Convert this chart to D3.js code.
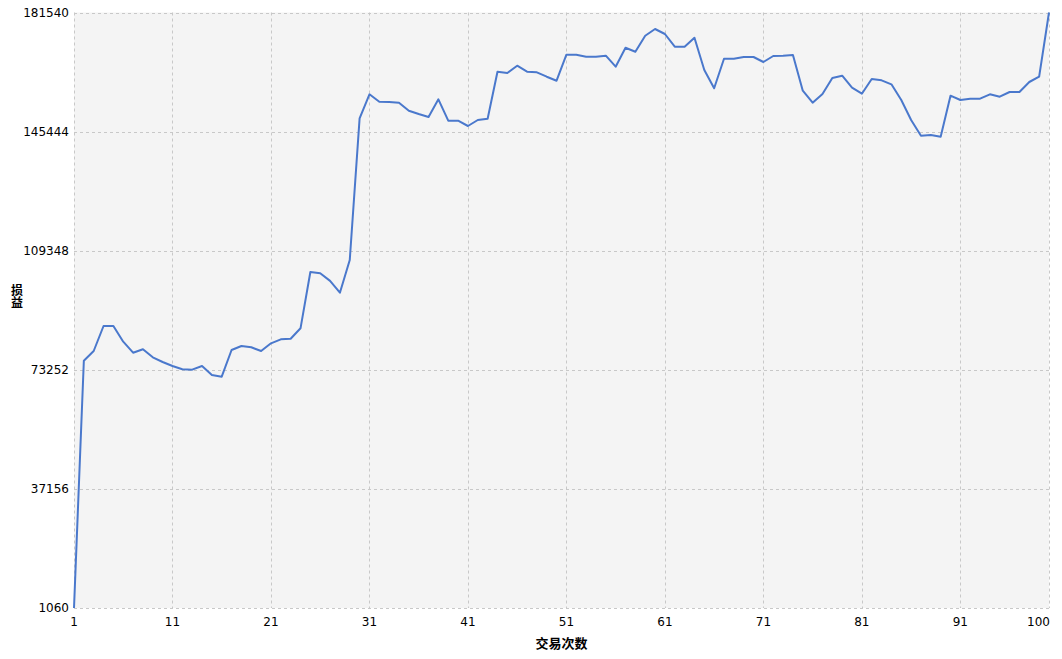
<!DOCTYPE html>
<html><head><meta charset="utf-8">
<script src="https://cdn.jsdelivr.net/npm/d3@7"></script>
<style>body{margin:0;background:#fff;}svg{display:block;}</style>
</head><body>
<svg id="c" width="1062" height="659"></svg>
<script>
const trades = d3.range(1, 101);
const pnl = [1060,76010,78949,86526,86526,81767,78434,79464,77040,75615,
74403,73402,73300,74403,71675,71160,79252,80464,80070,78949,
81282,82494,82676,85828,102892,102498,100200,96618,106528,149473,
156747,154504,154413,154201,151777,150777,149867,155231,148746,148746,
147140,148958,149352,163596,163202,165414,163596,163414,162081,160869,
168748,168748,168142,168142,168445,165112,170870,169658,174507,176538,
175022,171173,171173,173901,164112,158565,167536,167536,168051,168051,
166536,168355,168445,168658,157838,154201,156838,161687,162384,158747,
156929,161384,160990,159778,155019,148958,144200,144412,143897,156324,
155019,155414,155414,156747,156020,157444,157444,160475,162081,181540];
const yTicks = [1060,37156,73252,109348,145444,181540];
const xTicks = [1,11,21,31,41,51,61,71,81,91,100];
const xTitle = "交易次数";
const yTitle = "损益";

const svg = d3.select("#c");
const L=74, R=1049, T=12.5, B=608;
const x = d3.scaleLinear().domain([1,100]).range([L,R]);
const y = d3.scaleLinear().domain([1060,181540]).range([B,T]);

svg.append("rect").attr("x",L).attr("y",T).attr("width",R-L).attr("height",B-T).attr("fill","#f4f4f4");

const g = svg.append("g");
g.selectAll(".hg").data(yTicks).join("line")
 .attr("x1",L).attr("x2",R).attr("y1",d=>Math.round(y(d))+0.5).attr("y2",d=>Math.round(y(d))+0.5)
 .attr("stroke","#c8c8c8").attr("stroke-dasharray","3,3");
g.selectAll(".vg").data(xTicks).join("line")
 .attr("y1",T).attr("y2",B).attr("x1",d=>Math.round(x(d))+0.5).attr("x2",d=>Math.round(x(d))+0.5)
 .attr("stroke","#c8c8c8").attr("stroke-dasharray","3,3");

const font = "Tahoma, 'DejaVu Sans', sans-serif";
svg.selectAll(".yl").data(yTicks).join("text")
 .attr("x",69).attr("y",d=>y(d)).attr("dy","0.35em").attr("text-anchor","end")
 .attr("font-family",font).attr("font-size",12).attr("fill","#000").text(d=>d);
svg.selectAll(".xl").data(xTicks).join("text")
 .attr("x",d=>d===100? R+1 : x(d)).attr("y",626).attr("text-anchor",d=>d===100?"end":"middle")
 .attr("font-family",font).attr("font-size",12).attr("fill","#000").text(d=>d);

const line = d3.line().x((d,i)=>x(trades[i])).y(d=>y(d));
svg.append("path").datum(pnl).attr("d",line).attr("fill","none")
 .attr("stroke","#4a78cc").attr("stroke-width",2).attr("stroke-linejoin","round");

svg.append("text").attr("x",(L+R)/2).attr("y",648).attr("text-anchor","middle")
 .attr("font-family","'Noto Sans CJK SC', sans-serif").attr("font-weight","bold").attr("font-size",13).text(xTitle);
svg.append("text").attr("x",17).attr("y",296).attr("text-anchor","middle")
 .attr("writing-mode","vertical-rl").style("text-orientation","upright")
 .attr("font-family","'Noto Sans CJK SC', sans-serif").attr("font-weight","bold").attr("font-size",12).text(yTitle);
</script>
</body></html>
